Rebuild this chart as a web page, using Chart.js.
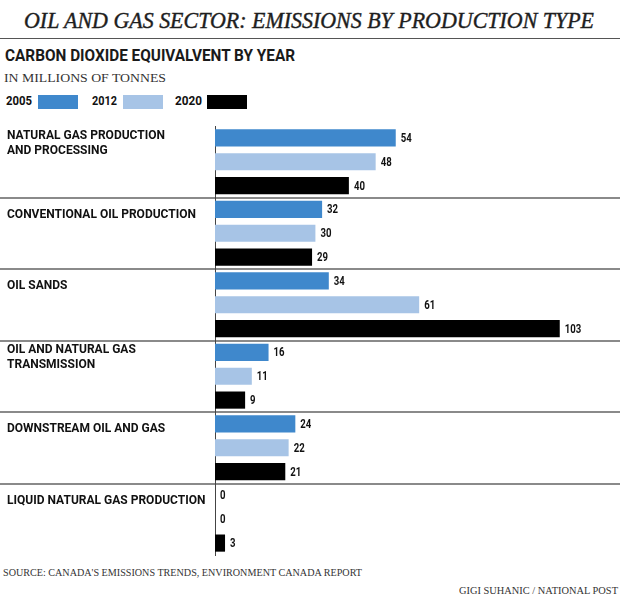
<!DOCTYPE html>
<html>
<head>
<meta charset="utf-8">
<script src="https://cdn.jsdelivr.net/npm/chart.js@4/dist/chart.umd.min.js"></script>
<style>
  body { margin: 0; background: #fff; }
  #page { position: relative; width: 620px; height: 602px; overflow: hidden; background: #fff; }
  .txt { position: absolute; white-space: nowrap; display: inline-block; transform-origin: left top; color: #1a1a1a; }
  #title { left: 24px; top: 8px; font: italic 23px "Liberation Serif", serif; color: #1e1e1e; -webkit-text-stroke: 0.4px #1e1e1e; }
  #rule { position: absolute; left: 0; top: 38px; width: 620px; height: 1px; background: #555; }
  #subtitle { left: 5px; top: 46px; font: bold 16px "Roboto", sans-serif; }
  #units { left: 4px; top: 71px; font: 12px "Liberation Serif", serif; color: #333; }
  .leg { top: 93px; font: bold 13px "Roboto", sans-serif; color: #111; }
  .box { position: absolute; top: 95px; width: 40px; height: 14px; }
  #chartWrap { position: absolute; left: 0; top: 118px; width: 620px; height: 444px; }
  #source { left: 3px; top: 567px; font: 10.5px "Liberation Serif", serif; color: #333; }
  #credit { left: 459px; top: 585px; font: 10.5px "Liberation Serif", serif; color: #333; }
</style>
</head>
<body>
<div id="page">
  <span class="txt" id="title">OIL AND GAS SECTOR: EMISSIONS BY PRODUCTION TYPE</span>
  <div id="rule"></div>
  <span class="txt" id="subtitle">CARBON DIOXIDE EQUIVALVENT BY YEAR</span>
  <span class="txt" id="units">IN MILLIONS OF TONNES</span>
  <span class="txt leg" id="leg0" style="left:6px">2005</span><div class="box" id="box0" style="left:38px"></div>
  <span class="txt leg" id="leg1" style="left:92px">2012</span><div class="box" id="box1" style="left:123px"></div>
  <span class="txt leg" id="leg2" style="left:175px">2020</span><div class="box" id="box2" style="left:207px"></div>
  <div id="chartWrap"><canvas id="emissions-chart"></canvas></div>
  <span class="txt" id="source">SOURCE: CANADA'S EMISSIONS TRENDS, ENVIRONMENT CANADA REPORT</span>
  <span class="txt" id="credit">GIGI SUHANIC / NATIONAL POST</span>
</div>
<script>
// Chart data
const categories = [
    ['NATURAL GAS PRODUCTION', 'AND PROCESSING'],
    'CONVENTIONAL OIL PRODUCTION',
    'OIL SANDS',
    ['OIL AND NATURAL GAS', 'TRANSMISSION'],
    'DOWNSTREAM OIL AND GAS',
    'LIQUID NATURAL GAS PRODUCTION'
];
const years = ['2005', '2012', '2020'];
const values2005 = [54, 32, 34, 16, 24, 0];
const values2012 = [48, 30, 61, 11, 22, 0];
const values2020 = [40, 29, 103, 9, 21, 3];
const yearColors = ['#3f88cc', '#a7c4e6', '#000000'];

// Squeeze a text element to a given width
function fitWidth(id, width) {
    const el = document.getElementById(id);
    const w = el.getBoundingClientRect().width;
    el.style.transform = 'scaleX(' + (width / w) + ')';
}
fitWidth('title', 570);
fitWidth('subtitle', 290);
fitWidth('units', 162);
fitWidth('source', 359);
fitWidth('credit', 159);
fitWidth('leg0', 26);
fitWidth('leg1', 25);
fitWidth('leg2', 27);

yearColors.forEach((c, i) => {
    document.getElementById('box' + i).style.background = c;
});

const labelFont = 'Roboto, sans-serif';

// Condensed category names on the left, near the top of each group
const categoryLabels = {
    id: 'categoryLabels',
    afterDraw(chart) {
        const ctx = chart.ctx;
        const yScale = chart.scales.y;
        ctx.save();
        ctx.font = 'bold 13px ' + labelFont;
        ctx.fillStyle = '#111';
        ctx.textBaseline = 'middle';
        ctx.textAlign = 'left';
        const squeeze = 189 / ctx.measureText('CONVENTIONAL OIL PRODUCTION').width;
        categories.forEach((cat, i) => {
            const lines = Array.isArray(cat) ? cat : [cat];
            const mid = yScale.getPixelForValue(i) - 19;
            lines.forEach((line, j) => {
                const y = mid + (j - (lines.length - 1) / 2) * 15;
                ctx.save();
                ctx.translate(7, y);
                ctx.scale(squeeze, 1);
                ctx.fillText(line, 0, 0);
                ctx.restore();
            });
        });
        ctx.restore();
    }
};

// Value numbers at the end of each bar
const valueLabels = {
    id: 'valueLabels',
    afterDatasetsDraw(chart) {
        const ctx = chart.ctx;
        ctx.save();
        ctx.font = 'bold 12px ' + labelFont;
        ctx.fillStyle = '#111';
        ctx.textBaseline = 'middle';
        ctx.textAlign = 'left';
        chart.data.datasets.forEach((ds, di) => {
            const meta = chart.getDatasetMeta(di);
            meta.data.forEach((bar, i) => {
                ctx.save();
                ctx.translate(bar.x + 5, bar.y + 1);
                ctx.scale(0.8, 1);
                ctx.fillText(String(ds.data[i]), 0, 0);
                ctx.restore();
            });
        });
        ctx.restore();
    }
};

const chartContext = document.getElementById('emissions-chart').getContext('2d');

window.emissionsChart = new Chart(chartContext, {
    type: 'bar',
    data: {
        labels: categories,
        datasets: [
            { label: years[0], data: values2005, backgroundColor: yearColors[0] },
            { label: years[1], data: values2012, backgroundColor: yearColors[1] },
            { label: years[2], data: values2020, backgroundColor: yearColors[2] }
        ]
    },
    options: {
        indexAxis: 'y',
        responsive: true,
        maintainAspectRatio: false,
        animation: false,
        layout: { padding: { top: 8, bottom: 7, left: 7, right: 0 } },
        datasets: {
            bar: { categoryPercentage: 1, barPercentage: 0.72 }
        },
        plugins: {
            legend: { display: false },
            tooltip: { enabled: false }
        },
        scales: {
            x: {
                display: false,
                min: 0,
                max: 121
            },
            y: {
                afterFit(scale) { scale.width = 208; },
                grid: {
                    offset: true,
                    drawOnChartArea: true,
                    tickLength: 222,
                    lineWidth: 2,
                    color: ctx => (ctx.type === 'tick' && ctx.index > 0) ? '#8a8a8a' : 'rgba(0,0,0,0)'
                },
                border: { display: true, color: '#444', width: 1 },
                ticks: { display: false }
            }
        }
    },
    plugins: [valueLabels, categoryLabels]
});
</script>
</body>
</html>
